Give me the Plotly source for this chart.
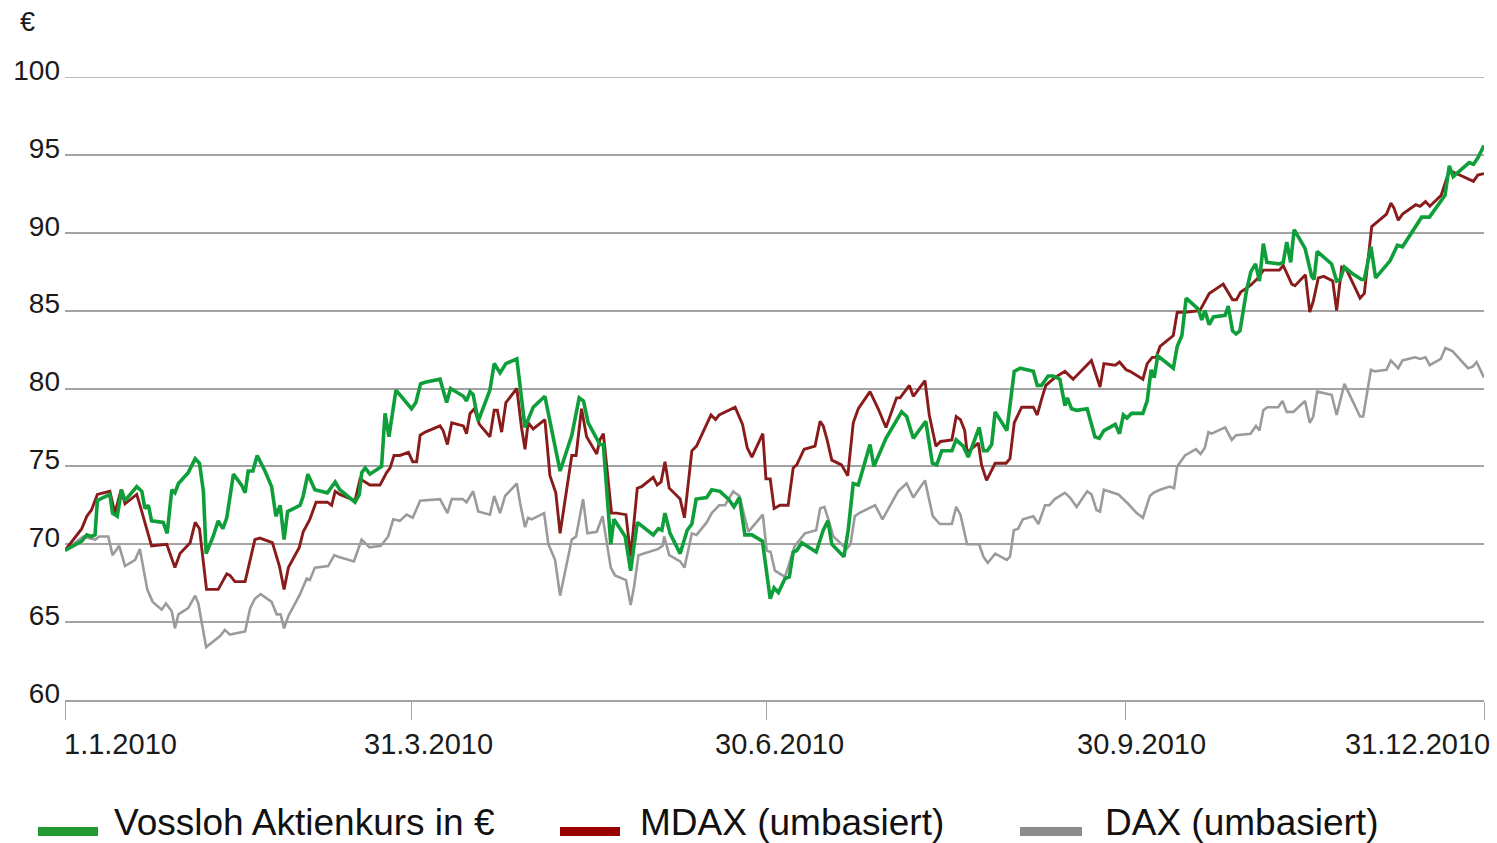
import pandas as pd
import plotly.graph_objects as go

# ---------------- data (day offset from 1.1.2010, value) ----------------
vossloh_days = [
    0, 4.3, 5.6, 6.8, 7.7, 8.3, 9.8, 11.5, 12.2, 13.4,
    14.5, 15.4, 18.4, 19.7, 20.5, 21.4, 22.2, 24.4, 25.2, 26.2,
    27.4, 28.2, 29.1, 31.6, 33.4, 34.5, 35.5, 36.2, 38.0, 39.3,
    40.5, 41.5, 43.2, 45.3, 46.2, 47.0, 48.2, 49.3, 51.3, 53.0,
    54.1, 55.2, 56.2, 57.1, 60.3, 61.1, 62.3, 64.1, 67.3, 69.3,
    70.5, 74.4, 75.5, 76.1, 77.0, 78.2, 81.2, 82.1, 83.1, 84.9,
    88.9, 90.0, 91.2, 92.4, 96.2, 97.9, 98.9, 102.2, 103.0, 103.9,
    104.7, 106.0, 109.0, 110.1, 111.6, 113.1, 115.9, 118.0, 120.1, 123.1,
    127.0, 130.0, 131.9, 133.0, 134.2, 137.2, 138.1, 140.0, 140.8, 143.7,
    145.1, 146.8, 150.9, 152.2, 153.1, 153.9, 155.2, 157.8, 159.6, 160.8,
    161.9, 164.6, 165.9, 168.0, 170.2, 171.6, 173.0, 174.4, 176.2, 178.9,
    179.7, 180.9, 181.9, 183.0, 184.7, 185.8, 186.8, 187.7, 189.0, 192.7,
    194.5, 195.7, 196.7, 199.8, 200.9, 202.2, 203.5, 206.5, 207.5, 209.5,
    210.6, 214.6, 215.9, 217.6, 220.8, 222.5, 223.6, 224.9, 227.5, 228.6,
    229.6, 230.4, 231.7, 234.5, 235.6, 236.6, 237.7, 238.6, 241.6, 243.5,
    245.0, 248.4, 249.4, 250.5, 252.2, 253.5, 255.2, 256.5, 257.1, 258.2,
    259.5, 262.2, 264.2, 265.3, 266.5, 269.4, 270.5, 271.5, 272.4, 273.6,
    276.5, 277.6, 278.6, 279.4, 280.3, 284.3, 285.3, 286.5, 287.6, 290.7,
    291.6, 292.4, 293.5, 294.6, 297.6, 298.4, 299.5, 300.4, 301.4, 303.1,
    304.2, 305.4, 306.4, 307.4, 308.3, 311.5, 312.5, 313.4, 314.4, 315.3,
    318.1, 319.8, 320.4, 321.2, 324.9, 326.2, 327.1, 328.2, 330.1, 332.6,
    333.3, 335.0, 336.2, 339.9, 341.8, 343.1, 348.0, 350.0, 354.0, 355.1,
    356.1, 360.2, 361.3, 362.4, 364,
]
vossloh_vals = [
    69.6, 70.2, 70.6, 70.5, 70.6, 72.8, 73.0, 73.2, 72.0, 71.8,
    73.5, 72.8, 73.7, 73.4, 72.3, 72.5, 71.5, 71.4, 71.4, 70.7,
    73.5, 73.3, 73.9, 74.6, 75.5, 75.2, 73.4, 69.4, 70.5, 71.5,
    71.0, 71.7, 74.5, 73.8, 73.3, 74.7, 74.7, 75.7, 74.7, 73.7,
    71.8, 72.5, 70.3, 72.1, 72.5, 73.1, 74.5, 73.5, 73.3, 74.0,
    73.5, 72.7, 73.2, 74.6, 74.9, 74.5, 75.0, 78.4, 76.9, 79.9,
    78.7, 79.1, 80.3, 80.4, 80.6, 79.1, 80.0, 79.5, 79.2, 79.8,
    79.6, 77.9, 79.9, 81.6, 81.0, 81.6, 81.9, 77.5, 78.8, 79.5,
    74.7, 77.0, 79.4, 79.2, 77.8, 76.4, 76.4, 70.0, 71.6, 70.5,
    68.3, 71.4, 70.6, 71.0, 70.9, 72.0, 70.7, 69.4, 70.9, 71.3,
    72.9, 73.0, 73.5, 73.4, 72.9, 72.4, 73.0, 70.6, 70.6, 70.2,
    68.6, 66.5, 67.2, 66.9, 67.8, 67.9, 69.5, 69.6, 70.1, 69.5,
    70.9, 71.5, 70.0, 69.2, 70.9, 73.9, 73.8, 76.4, 75.0, 76.1,
    76.8, 78.5, 78.2, 76.8, 77.9, 75.2, 75.1, 76.0, 76.0, 76.7,
    76.5, 76.3, 75.6, 77.5, 76.0, 76.0, 76.4, 78.5, 77.3, 81.1,
    81.3, 81.1, 80.2, 80.2, 80.8, 80.8, 80.6, 78.9, 79.4, 78.7,
    78.6, 78.7, 76.9, 76.8, 77.3, 77.7, 77.1, 78.3, 78.1, 78.4,
    78.4, 79.2, 81.2, 80.7, 82.1, 81.3, 82.7, 83.4, 85.8, 85.1,
    84.4, 85.0, 84.1, 84.6, 84.7, 85.3, 83.7, 83.5, 83.7, 86.3,
    87.5, 88.0, 86.9, 89.3, 88.1, 88.0, 88.1, 89.4, 88.1, 90.2,
    89.0, 87.2, 87.0, 88.8, 88.0, 86.9, 87.0, 87.8, 87.4, 87.0,
    87.0, 89.1, 87.1, 88.2, 89.2, 89.1, 91.0, 91.0, 92.4, 94.3,
    93.6, 94.5, 94.4, 94.8, 95.6,
]

mdax_days = [
    0, 4.3, 5.6, 6.8, 8.3, 11.5, 12.8, 14.4, 15.4, 18.4,
    19.7, 22.2, 26.1, 28.2, 29.5, 32.1, 33.4, 34.5, 36.3, 39.3,
    41.5, 42.3, 43.6, 46.2, 47.5, 48.7, 50.0, 53.2, 55.0, 56.2,
    57.3, 60.1, 61.1, 62.8, 64.4, 67.3, 68.4, 69.3, 70.5, 74.4,
    75.7, 77.0, 78.2, 80.8, 82.5, 83.4, 84.4, 85.9, 88.1, 89.2,
    90.2, 91.1, 92.4, 96.2, 97.0, 98.1, 99.2, 102.2, 103.0, 103.9,
    105.0, 106.3, 109.0, 110.1, 110.9, 112.0, 113.1, 115.9, 117.1, 118.0,
    118.8, 120.1, 123.1, 124.4, 125.9, 127.0, 130.0, 131.1, 132.5, 133.8,
    136.4, 137.2, 138.1, 140.2, 141.5, 143.9, 145.1, 146.8, 147.9, 150.9,
    151.9, 152.9, 153.9, 155.0, 157.8, 158.9, 160.8, 162.0, 165.7, 166.9,
    167.8, 171.9, 173.8, 175.0, 176.2, 179.0, 179.8, 180.9, 181.9, 183.4,
    185.5, 186.8, 187.7, 189.6, 192.4, 193.7, 194.5, 195.5, 196.7, 199.2,
    200.8, 202.2, 203.5, 206.5, 208.6, 210.6, 213.3, 214.2, 216.6, 217.6,
    220.6, 221.7, 223.4, 224.6, 227.5, 228.6, 229.7, 230.8, 231.4, 234.3,
    235.1, 236.4, 238.6, 241.4, 242.4, 243.5, 245.4, 248.4, 249.4, 250.5,
    251.6, 253.9, 256.5, 258.6, 263.3, 265.5, 266.5, 269.4, 270.5, 272.2,
    273.2, 276.5, 277.6, 278.9, 279.9, 280.9, 284.3, 285.3, 287.3, 291.1,
    293.5, 297.1, 299.5, 300.5, 301.6, 304.0, 306.1, 307.4, 311.5, 312.5,
    314.7, 315.5, 318.2, 319.3, 320.2, 321.5, 322.9, 325.2, 326.2, 327.5,
    328.6, 332.2, 333.3, 335.2, 339.0, 340.1, 340.9, 342.0, 343.1, 346.5,
    347.6, 349.0, 350.1, 353.0, 354.0, 355.1, 356.1, 361.3, 362.4, 364,
]
mdax_vals = [
    69.6, 71.0, 71.8, 72.2, 73.2, 73.4, 72.0, 73.5, 72.6, 73.2,
    72.1, 69.9, 70.0, 68.5, 69.4, 70.1, 71.4, 71.0, 67.1, 67.1,
    68.1, 68.0, 67.6, 67.6, 69.0, 70.3, 70.4, 70.1, 68.6, 67.1,
    68.5, 69.8, 70.8, 71.6, 72.7, 72.7, 72.5, 73.4, 73.2, 72.8,
    74.2, 74.0, 73.8, 73.8, 74.6, 74.9, 75.7, 75.7, 75.9, 75.3,
    75.3, 77.0, 77.2, 77.6, 77.3, 76.4, 77.8, 77.6, 77.1, 78.4,
    78.7, 77.7, 76.9, 78.6, 78.6, 77.2, 79.1, 80.0, 77.5, 76.1,
    77.8, 77.4, 78.0, 74.4, 73.3, 70.7, 75.7, 75.7, 78.7, 76.9,
    75.8, 76.7, 77.1, 72.0, 72.0, 71.9, 69.2, 73.6, 73.7, 74.3,
    73.8, 74.0, 75.3, 73.6, 72.9, 71.7, 76.0, 76.3, 78.3, 78.0,
    78.3, 78.8, 77.7, 76.2, 75.6, 77.1, 74.2, 74.2, 72.3, 72.5,
    72.5, 74.9, 75.1, 76.1, 76.3, 77.9, 77.6, 76.7, 75.4, 75.1,
    74.4, 77.8, 78.7, 79.8, 78.7, 77.5, 79.4, 79.4, 80.2, 79.5,
    80.5, 78.3, 76.3, 76.6, 76.7, 78.2, 78.0, 77.3, 75.9, 76.5,
    75.1, 74.1, 75.2, 75.2, 75.5, 77.8, 78.8, 78.8, 78.3, 79.3,
    80.2, 80.7, 81.1, 80.6, 81.8, 80.1, 81.6, 81.5, 81.7, 81.2,
    81.1, 80.6, 81.6, 82.0, 82.0, 82.7, 83.4, 84.9, 84.9, 85.0,
    86.1, 86.7, 85.7, 85.7, 86.2, 86.6, 87.1, 87.6, 87.6, 87.9,
    86.7, 86.6, 87.3, 84.9, 85.6, 87.1, 87.2, 86.9, 85.0, 87.8,
    87.7, 85.8, 86.1, 90.4, 91.2, 91.9, 91.6, 90.8, 91.2, 91.8,
    91.7, 92.0, 91.7, 92.4, 93.1, 94.0, 93.9, 93.3, 93.7, 93.8,
]

dax_days = [
    0, 4.7, 6.0, 7.7, 8.8, 11.1, 12.2, 13.9, 15.4, 18.0,
    19.2, 21.1, 22.5, 24.8, 25.9, 27.4, 28.2, 29.1, 31.6, 32.5,
    33.4, 34.2, 36.2, 39.8, 41.0, 42.3, 46.2, 47.5, 48.7, 50.2,
    53.0, 54.3, 55.3, 56.2, 57.3, 60.3, 62.0, 62.8, 64.1, 67.5,
    69.1, 70.1, 74.1, 76.1, 78.1, 81.0, 82.9, 84.2, 85.9, 87.6,
    89.2, 91.1, 96.2, 98.1, 99.2, 102.0, 103.0, 104.7, 106.0, 109.0,
    110.1, 111.6, 112.9, 115.9, 116.7, 118.0, 118.8, 119.7, 122.9, 124.0,
    125.7, 127.0, 130.0, 131.1, 132.9, 134.0, 136.4, 137.9, 140.0, 141.1,
    143.9, 145.1, 146.0, 147.1, 150.7, 152.2, 153.3, 153.7, 155.0, 157.8,
    158.9, 160.8, 162.0, 164.6, 165.9, 167.8, 169.3, 171.4, 173.0, 175.3,
    179.0, 180.0, 181.0, 182.1, 184.7, 187.2, 189.8, 192.7, 193.7, 194.8,
    195.8, 197.1, 200.5, 201.5, 202.6, 203.7, 207.8, 209.7, 213.7, 215.9,
    217.6, 220.6, 222.6, 224.4, 227.5, 228.6, 229.7, 231.4, 234.5, 235.6,
    236.7, 238.6, 241.6, 242.4, 243.4, 244.5, 245.7, 248.4, 249.7, 251.4,
    252.5, 253.9, 256.5, 257.8, 259.5, 262.2, 263.3, 264.6, 265.5, 266.5,
    270.2, 272.7, 274.9, 276.5, 278.3, 279.2, 280.9, 283.4, 284.5, 285.3,
    287.3, 290.1, 291.3, 292.4, 293.3, 294.1, 297.6, 299.3, 300.4, 304.1,
    305.5, 306.4, 307.4, 308.4, 311.2, 312.3, 313.4, 315.1, 318.1, 319.3,
    320.2, 321.2, 324.9, 326.2, 328.2, 332.2, 333.0, 335.0, 336.0, 339.0,
    340.1, 342.0, 343.1, 346.3, 347.6, 349.0, 350.1, 352.9, 354.1, 355.9,
    359.9, 361.1, 362.1, 364,
]
dax_vals = [
    69.6, 70.5, 70.4, 70.3, 70.5, 70.5, 69.3, 69.9, 68.6, 69.0,
    69.7, 67.1, 66.3, 65.8, 66.2, 65.7, 64.6, 65.5, 65.9, 66.3,
    66.7, 66.2, 63.4, 64.1, 64.5, 64.2, 64.4, 65.9, 66.5, 66.8,
    66.3, 65.5, 65.5, 64.6, 65.4, 66.8, 67.8, 67.7, 68.5, 68.6,
    69.3, 69.2, 68.9, 70.3, 69.8, 69.9, 70.5, 71.6, 71.5, 71.9,
    71.7, 72.8, 72.9, 72.0, 72.9, 72.9, 72.7, 73.4, 72.1, 71.9,
    73.1, 72.0, 73.1, 73.9, 72.7, 71.1, 71.7, 71.6, 72.0, 70.0,
    69.0, 66.7, 70.3, 70.5, 72.9, 70.7, 70.8, 71.8, 68.5, 68.0,
    67.7, 66.1, 67.3, 69.3, 69.6, 69.7, 69.9, 70.5, 69.3, 68.9,
    68.5, 70.7, 70.6, 71.4, 72.0, 72.5, 72.5, 73.4, 73.1, 70.8,
    71.9, 69.6, 69.5, 68.3, 67.9, 69.9, 70.7, 70.9, 72.3, 72.4,
    71.6, 70.5, 69.7, 70.0, 71.8, 72.0, 72.5, 71.6, 73.4, 73.9,
    73.0, 74.1, 71.8, 71.3, 71.3, 72.4, 71.9, 70.0, 70.0, 69.2,
    68.8, 69.4, 69.0, 69.2, 70.9, 71.0, 71.6, 71.8, 71.3, 72.5,
    72.5, 72.9, 73.3, 73.0, 72.4, 73.4, 73.2, 72.2, 72.1, 73.5,
    73.2, 72.6, 72.0, 71.7, 73.1, 73.3, 73.5, 73.7, 73.6, 75.0,
    75.7, 76.1, 75.8, 76.2, 77.2, 77.1, 77.5, 76.7, 77.0, 77.1,
    77.6, 77.3, 78.6, 78.8, 78.8, 79.2, 78.5, 78.5, 79.2, 77.8,
    78.2, 79.8, 79.6, 78.3, 80.3, 78.2, 78.2, 81.2, 81.1, 81.2,
    81.8, 81.3, 81.8, 82.0, 81.9, 82.0, 81.5, 81.9, 82.6, 82.4,
    81.3, 81.4, 81.7, 80.7,
]

series_names = ["Vossloh Aktienkurs in €", "MDAX (umbasiert)", "DAX (umbasiert)"]
series_colors = ["#0e9e3a", "#8a1b1b", "#9b9b9b"]
legend_colors = ["#229a31", "#990000", "#8c8c8c"]

x_tick_dates = ["2010-01-01", "2010-03-31", "2010-06-30", "2010-09-30", "2010-12-31"]
x_tick_labels = ["1.1.2010", "31.3.2010", "30.6.2010", "30.9.2010", "31.12.2010"]
y_ticks = [60, 65, 70, 75, 80, 85, 90, 95, 100]

assert len(vossloh_days) == len(vossloh_vals)
assert len(mdax_days) == len(mdax_vals)
assert len(dax_days) == len(dax_vals)

BASE = pd.Timestamp("2010-01-01")


def to_dates(days):
    return [BASE + pd.Timedelta(days=float(d)) for d in days]


FONT = "Liberation Sans, Arial, Helvetica, sans-serif"

fig = go.Figure()
fig.add_trace(go.Scatter(x=to_dates(dax_days), y=dax_vals, mode="lines",
                         name=series_names[2],
                         line=dict(color=series_colors[2], width=2.6)))
fig.add_trace(go.Scatter(x=to_dates(mdax_days), y=mdax_vals, mode="lines",
                         name=series_names[1],
                         line=dict(color=series_colors[1], width=2.9)))
fig.add_trace(go.Scatter(x=to_dates(vossloh_days), y=vossloh_vals, mode="lines",
                         name=series_names[0],
                         line=dict(color=series_colors[0], width=3.6)))

W, H = 1497, 843
L, R, T, B = 65, 13, 77, 143
PW, PH = W - L - R, H - T - B


def px(xp):
    return (xp - L) / PW


def py(yp):
    return (H - B - yp) / PH


annotations = []
# x-axis labels
label_centers = [None, 428, 779, 1141, 1417]
for i, lab in enumerate(x_tick_labels):
    if i == 0:
        annotations.append(dict(x=px(62), y=py(744), xref="paper", yref="paper",
                                text=lab, showarrow=False, xanchor="left", yanchor="middle",
                                font=dict(size=29, family=FONT, color="#1a1a1a")))
    else:
        annotations.append(dict(x=px(label_centers[i]), y=py(744), xref="paper", yref="paper",
                                text=lab, showarrow=False, xanchor="center", yanchor="middle",
                                font=dict(size=29, family=FONT, color="#1a1a1a")))

# euro sign
annotations.append(dict(x=px(27), y=py(22), xref="paper", yref="paper", text="€",
                        showarrow=False, xanchor="center", yanchor="middle",
                        font=dict(size=27, family=FONT, color="#1a1a1a")))

# custom legend
shapes = []
legend_bars = [(38, 98), (560, 620), (1020, 1082)]
legend_text_x = [112, 638, 1103]
for i in range(3):
    x0, x1 = legend_bars[i]
    shapes.append(dict(type="rect", xref="paper", yref="paper",
                       x0=px(x0), x1=px(x1), y0=py(836), y1=py(827),
                       fillcolor=legend_colors[i], line=dict(width=0)))
    annotations.append(dict(x=px(legend_text_x[i]), y=py(822), xref="paper", yref="paper",
                            text=series_names[i], showarrow=False,
                            xanchor="left", yanchor="middle",
                            font=dict(size=37, family=FONT, color="#111111")))

# explicit top gridline (plotly drops the grid line lying on the plot edge)
shapes.append(dict(type="line", xref="paper", yref="y", x0=0, x1=1, y0=100, y1=100,
                   line=dict(color="#a3a3a3", width=1.6), layer="below"))

fig.update_layout(
    width=W, height=H, autosize=False,
    margin=dict(l=L, r=R, t=T, b=B, pad=0),
    plot_bgcolor="white", paper_bgcolor="white",
    showlegend=False,
    font=dict(family=FONT, color="#1a1a1a"),
    annotations=annotations,
    shapes=shapes,
    xaxis=dict(
        type="date",
        range=[BASE, BASE + pd.Timedelta(days=364)],
        showgrid=False, zeroline=False,
        showline=True, linecolor="#a3a3a3", linewidth=1.6,
        tickvals=x_tick_dates, ticks="outside", ticklen=18,
        tickcolor="#a3a3a3", tickwidth=1.2,
        showticklabels=False,
    ),
    yaxis=dict(
        range=[60, 100], tickvals=y_ticks,
        showgrid=True, gridcolor="#a3a3a3", gridwidth=1.6,
        zeroline=False, showline=False, ticks="",
        tickfont=dict(size=28, family=FONT, color="#1a1a1a"),
        ticklabelshift=-7, ticklabelstandoff=4,
    ),
)

fig.write_html(
    "out.html",
    config={"displayModeBar": False},
    post_script="document.body.style.margin='0';document.body.style.overflow='hidden';",
)
